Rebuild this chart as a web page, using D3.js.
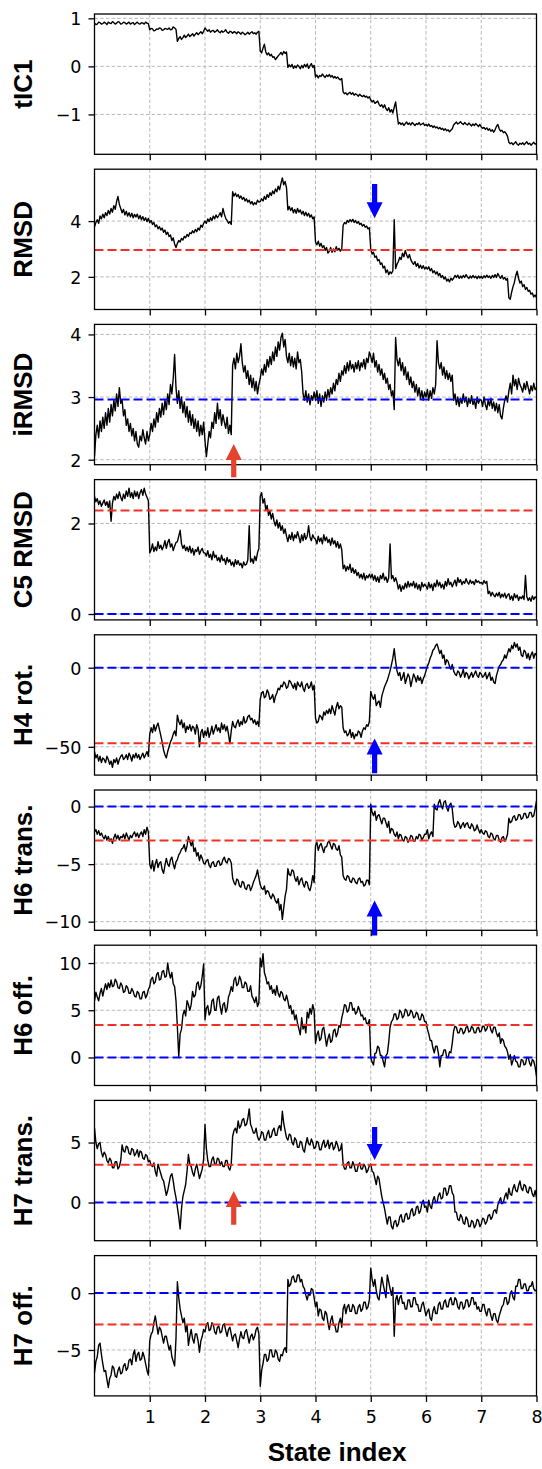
<!DOCTYPE html>
<html>
<head>
<meta charset="utf-8">
<script src="https://cdn.jsdelivr.net/npm/d3@7"></script>
<style>
  body { margin: 0; background: #fff; }
  svg { display: block; }
</style>
</head>
<body>
<svg id="chart" width="542" height="1469"></svg>
<script>
// ---- Data: one trace per panel, sampled every 0.025 state-index units (0 .. 8) ----
const stateIndex = d3.range(321).map(i => i * 0.025);

const tIC1 = [
  0.90,0.87,0.88,0.92,0.91,0.88,0.89,0.92,0.90,0.87, 0.92,0.90,0.89,0.93,0.91,0.88,0.90,0.93,0.92,0.88,
  0.89,0.92,0.91,0.88,0.90,0.92,0.88,0.90,0.91,0.87, 0.90,0.92,0.89,0.88,0.91,0.90,0.88,0.92,0.90,0.89,
  0.76,0.79,0.78,0.74,0.75,0.78,0.77,0.80,0.79,0.75, 0.76,0.79,0.78,0.77,0.80,0.76,0.77,0.82,0.80,0.77,
  0.52,0.58,0.62,0.56,0.60,0.65,0.60,0.63,0.67,0.62, 0.65,0.68,0.63,0.67,0.70,0.66,0.69,0.72,0.68,0.73,
  0.80,0.76,0.73,0.76,0.71,0.74,0.75,0.71,0.73,0.76, 0.72,0.70,0.74,0.71,0.73,0.76,0.71,0.69,0.73,0.72,
  0.69,0.72,0.71,0.68,0.72,0.70,0.67,0.71,0.69,0.66, 0.68,0.71,0.67,0.70,0.72,0.68,0.70,0.67,0.71,0.73,
  0.32,0.28,0.38,0.46,0.30,0.24,0.28,0.22,0.25,0.19, 0.20,0.14,0.18,0.22,0.25,0.29,0.24,0.31,0.27,0.30,
  -0.02,0.03,-0.01,0.04,-0.04,0.01,-0.03,0.03,0.00,-0.05, 0.02,-0.03,0.04,-0.01,0.05,-0.04,0.01,0.06,-0.02,0.02,
  -0.22,-0.18,-0.24,-0.19,-0.21,-0.16,-0.20,-0.23,-0.18,-0.21, -0.17,-0.22,-0.19,-0.24,-0.21,-0.25,-0.22,-0.26,-0.28,-0.25,
  -0.53,-0.57,-0.55,-0.59,-0.56,-0.54,-0.58,-0.55,-0.60,-0.57, -0.59,-0.62,-0.58,-0.61,-0.63,-0.60,-0.64,-0.62,-0.66,-0.63,
  -0.70,-0.74,-0.71,-0.77,-0.75,-0.72,-0.79,-0.83,-0.80,-0.86, -0.80,-0.88,-0.92,-0.86,-0.95,-0.90,-0.97,-0.85,-0.74,-0.98,
  -1.20,-1.17,-1.21,-1.18,-1.23,-1.19,-1.16,-1.21,-1.18,-1.22, -1.17,-1.20,-1.23,-1.19,-1.21,-1.17,-1.22,-1.20,-1.18,-1.23,
  -1.21,-1.24,-1.20,-1.25,-1.23,-1.27,-1.24,-1.28,-1.26,-1.30, -1.27,-1.31,-1.29,-1.33,-1.30,-1.34,-1.32,-1.36,-1.33,-1.30,
  -1.22,-1.19,-1.16,-1.20,-1.18,-1.15,-1.19,-1.21,-1.17,-1.20, -1.22,-1.18,-1.21,-1.24,-1.20,-1.23,-1.19,-1.22,-1.25,-1.21,
  -1.26,-1.29,-1.27,-1.31,-1.28,-1.33,-1.30,-1.35,-1.32,-1.37, -1.32,-1.25,-1.21,-1.30,-1.35,-1.33,-1.38,-1.36,-1.40,-1.45,
  -1.58,-1.61,-1.59,-1.63,-1.60,-1.57,-1.62,-1.64,-1.60,-1.62, -1.59,-1.63,-1.60,-1.57,-1.62,-1.60,-1.64,-1.61,-1.58,-1.62,
  -1.60
];

const rmsd = [
  3.80,3.95,4.05,3.92,4.18,4.08,4.25,4.12,4.30,4.20, 4.38,4.25,4.45,4.32,4.55,4.42,4.70,4.88,4.60,4.45,
  4.30,4.42,4.22,4.35,4.18,4.30,4.15,4.28,4.12,4.24, 4.15,4.25,4.08,4.20,4.05,4.16,4.02,4.12,3.98,4.10,
  3.95,4.02,3.88,3.95,3.80,3.86,3.72,3.80,3.68,3.75, 3.60,3.68,3.52,3.60,3.45,3.50,3.30,3.40,3.18,3.05,
  3.20,3.30,3.25,3.38,3.32,3.45,3.40,3.52,3.45,3.58, 3.55,3.65,3.58,3.70,3.62,3.75,3.68,3.85,3.78,3.92,
  4.00,3.92,4.08,3.98,4.12,4.02,4.18,4.08,4.22,4.12, 4.20,4.30,4.15,4.45,4.25,4.10,4.02,3.92,3.98,3.88,
  5.05,4.90,5.00,4.88,4.95,4.82,4.90,4.78,4.85,4.72, 4.80,4.68,4.75,4.62,4.70,4.58,4.66,4.60,4.75,4.68,
  4.70,4.80,4.72,4.88,4.78,4.95,4.85,5.02,4.92,5.08, 4.98,5.15,5.05,5.25,5.12,5.35,5.55,5.30,5.42,5.20,
  4.40,4.52,4.38,4.48,4.30,4.42,4.28,4.45,4.32,4.40, 4.25,4.35,4.20,4.32,4.18,4.28,4.14,4.22,4.08,4.15,
  3.25,3.15,3.28,3.10,3.20,3.05,3.12,2.95,3.05,2.85, 2.92,3.05,2.88,3.00,2.90,3.08,2.95,3.02,2.92,3.00,
  3.85,3.95,3.90,4.02,3.96,4.05,3.98,4.06,3.95,4.02, 3.92,3.98,3.88,3.92,3.82,3.88,3.78,3.82,3.72,3.76,
  3.00,2.82,2.88,2.70,2.75,2.58,2.62,2.45,2.50,2.32, 2.38,2.15,2.25,2.08,2.18,2.12,2.22,4.05,2.30,2.45,
  2.55,2.70,2.62,2.85,2.72,2.95,2.78,2.68,2.80,2.62, 2.52,2.45,2.55,2.38,2.48,2.32,2.42,2.30,2.40,2.28,
  2.35,2.28,2.36,2.22,2.30,2.15,2.22,2.10,2.18,2.05, 2.12,1.98,2.05,1.92,2.00,1.85,1.92,1.82,1.95,1.88,
  1.95,2.05,1.98,2.06,1.95,2.03,1.96,2.05,1.98,2.08, 2.00,1.94,2.03,1.96,2.05,1.97,2.02,1.94,2.03,1.96,
  2.02,1.95,2.04,1.97,2.06,1.98,2.03,1.95,2.05,1.98, 2.08,1.98,2.12,2.02,1.95,2.05,1.92,1.98,1.88,1.94,
  1.25,1.20,1.45,1.65,1.80,2.05,2.20,1.95,1.78,1.85, 1.65,1.72,1.55,1.62,1.48,1.52,1.38,1.42,1.28,1.35,
  1.25
];

const iRMSD = [
  2.05,2.40,2.55,2.35,2.62,2.45,2.68,2.50,2.75,2.55, 2.82,2.60,2.88,2.70,2.95,2.78,3.05,2.85,3.15,2.90,
  2.95,2.70,2.80,2.55,2.65,2.45,2.58,2.38,2.50,2.30, 2.45,2.25,2.20,2.38,2.30,2.48,2.35,2.25,2.45,2.30,
  2.40,2.58,2.45,2.65,2.52,2.75,2.60,2.82,2.68,2.90, 2.72,2.95,2.80,3.05,2.88,3.20,3.05,3.30,3.68,3.15,
  2.90,3.10,2.82,3.00,2.75,2.92,2.68,2.85,2.60,2.78, 2.55,2.72,2.50,2.65,2.45,2.62,2.38,2.55,2.40,2.60,
  2.30,2.05,2.25,2.45,2.35,2.60,2.50,2.75,2.58,2.90, 2.65,2.80,2.55,2.72,2.60,2.50,2.68,2.42,2.55,2.40,
  3.50,3.62,3.45,3.70,3.55,3.65,3.85,3.55,3.40,3.50, 3.30,3.42,3.20,3.35,3.15,3.30,3.10,3.25,3.05,3.20,
  3.30,3.45,3.35,3.52,3.40,3.60,3.48,3.65,3.52,3.72, 3.58,3.80,3.65,3.88,3.75,3.95,4.02,3.80,3.92,3.65,
  3.55,3.70,3.50,3.65,3.48,3.62,3.45,3.72,3.55,3.60, 3.40,3.05,2.95,3.10,2.92,3.05,2.88,3.02,2.95,3.08,
  2.95,3.10,2.90,3.05,2.85,3.02,2.92,3.08,2.95,3.12, 3.00,3.15,3.05,3.22,3.10,3.28,3.20,3.38,3.25,3.42,
  3.35,3.50,3.38,3.55,3.42,3.58,3.45,3.52,3.40,3.55, 3.45,3.58,3.42,3.55,3.48,3.60,3.45,3.62,3.55,3.72,
  3.65,3.55,3.70,3.48,3.58,3.40,3.52,3.35,3.45,3.28, 3.38,3.22,3.30,3.12,3.20,3.02,3.10,2.80,3.95,3.60,
  3.50,3.62,3.42,3.55,3.35,3.48,3.28,3.40,3.20,3.32, 3.15,3.25,3.08,3.20,3.02,3.15,2.98,3.10,2.95,3.08,
  3.00,3.12,2.95,3.10,2.98,3.15,3.05,3.20,3.90,3.55, 3.45,3.55,3.35,3.48,3.30,3.42,3.28,3.38,3.25,3.35,
  2.95,3.05,2.88,3.00,2.85,2.98,2.90,3.05,2.92,3.00, 2.85,2.98,2.90,3.02,2.88,2.95,2.82,3.00,2.90,2.96,
  2.95,2.85,3.00,2.88,2.80,2.95,2.86,2.98,2.82,2.92, 2.78,2.90,2.75,2.88,2.70,2.65,2.82,2.95,3.02,2.92,
  3.10,3.22,3.05,3.35,3.18,3.28,3.12,3.30,3.20,3.15, 3.08,3.22,3.12,3.25,3.15,3.05,3.18,3.10,3.22,3.12,
  3.15
];

const c5RMSD = [
  2.60,2.48,2.55,2.42,2.50,2.38,2.45,2.52,2.40,2.48, 2.35,2.50,2.05,2.45,2.60,2.52,2.65,2.55,2.70,2.58,
  2.50,2.65,2.55,2.72,2.60,2.78,2.58,2.68,2.55,2.72, 2.60,2.70,2.55,2.68,2.75,2.62,2.78,2.65,2.58,2.50,
  1.35,1.42,1.55,1.38,1.48,1.40,1.60,1.45,1.52,1.42, 1.50,1.62,1.45,1.58,1.65,1.48,1.55,1.40,1.50,1.58,
  1.60,1.72,1.85,1.55,1.45,1.52,1.40,1.48,1.38,1.50, 1.35,1.45,1.30,1.42,1.38,1.48,1.32,1.40,1.45,1.35,
  1.35,1.28,1.40,1.25,1.32,1.20,1.38,1.25,1.30,1.18, 1.25,1.15,1.30,1.18,1.22,1.10,1.25,1.15,1.20,1.08,
  1.15,1.05,1.20,1.10,1.18,1.08,1.12,1.02,1.15,1.08, 1.10,1.20,1.95,1.15,1.22,1.12,1.28,1.18,1.35,1.45,
  2.60,2.68,2.45,2.55,2.30,2.40,2.18,2.28,2.10,2.22, 2.05,1.95,2.08,1.90,2.02,1.85,1.95,1.78,1.88,1.72,
  1.60,1.75,1.65,1.80,1.62,1.75,1.68,1.82,1.70,1.58, 1.75,1.62,1.78,1.65,1.72,1.95,1.70,1.62,1.75,1.68,
  1.65,1.55,1.72,1.60,1.68,1.55,1.75,1.62,1.70,1.58, 1.65,1.52,1.68,1.55,1.62,1.48,1.60,1.45,1.55,1.42,
  1.00,1.08,0.95,1.05,0.98,1.10,0.92,1.02,0.90,0.98, 0.85,0.92,0.80,0.88,0.78,0.90,0.75,0.85,0.80,0.88,
  0.80,0.88,0.75,0.85,0.72,0.82,0.70,0.85,0.78,0.90, 0.75,0.82,0.70,0.80,1.55,0.78,0.85,0.72,0.80,0.70,
  0.55,0.65,0.50,0.62,0.55,0.68,0.58,0.72,0.60,0.68, 0.62,0.72,0.58,0.68,0.55,0.65,0.52,0.70,0.60,0.66,
  0.62,0.55,0.70,0.58,0.66,0.52,0.68,0.60,0.75,0.62, 0.70,0.58,0.66,0.55,0.72,0.62,0.78,0.65,0.70,0.60,
  0.68,0.75,0.62,0.80,0.70,0.76,0.65,0.72,0.68,0.78, 0.70,0.66,0.75,0.68,0.72,0.65,0.76,0.70,0.73,0.68,
  0.70,0.66,0.74,0.68,0.72,0.45,0.50,0.40,0.48,0.42, 0.38,0.46,0.40,0.48,0.36,0.44,0.38,0.46,0.35,0.42,
  0.45,0.32,0.40,0.30,0.45,0.36,0.42,0.30,0.38,0.34, 0.40,0.32,0.85,0.38,0.30,0.36,0.28,0.40,0.32,0.38,
  0.35
];

const h4Rot = [
  -53,-57,-55,-59,-56,-60,-57,-58,-60,-56, -58,-61,-59,-63,-58,-60,-57,-61,-58,-56,
  -55,-58,-57,-55,-58,-54,-56,-59,-55,-57, -54,-57,-55,-58,-56,-54,-57,-55,-53,-56,
  -42,-38,-41,-36,-40,-37,-35,-39,-43,-47, -52,-55,-57,-53,-50,-47,-45,-42,-40,-43,
  -30,-34,-36,-33,-38,-35,-41,-37,-39,-36, -40,-37,-38,-42,-36,-39,-50,-41,-39,-44,
  -40,-43,-38,-44,-41,-37,-42,-39,-36,-40, -38,-41,-35,-39,-36,-40,-37,-42,-48,-40,
  -34,-37,-38,-35,-33,-37,-34,-36,-31,-35, -34,-31,-30,-33,-32,-35,-33,-36,-34,-37,
  -20,-16,-15,-19,-18,-14,-16,-20,-19,-17, -22,-18,-16,-13,-14,-11,-12,-9,-10,-13,
  -12,-8,-9,-11,-13,-10,-14,-9,-11,-12, -9,-13,-15,-11,-10,-13,-12,-9,-14,-11,
  -32,-35,-34,-30,-31,-33,-28,-30,-27,-29, -26,-29,-24,-27,-30,-25,-22,-26,-24,-25,
  -38,-41,-40,-43,-42,-39,-44,-41,-45,-42, -43,-40,-41,-44,-40,-38,-39,-36,-37,-34,
  -15,-18,-20,-17,-24,-22,-21,-25,-18,-15, -12,-10,-8,-5,-2,2,6,12,4,-2,
  -5,-3,-8,-6,-3,-10,-7,-4,-6,-12, -8,-4,-6,-9,-5,-8,-6,-10,-7,-5,
  -2,1,3,6,8,11,12,14,15,12, 9,11,6,8,2,5,4,1,-1,2,
  -2,-4,-5,-2,-3,-6,-4,-1,-6,-3, -4,-7,-5,-3,-6,-4,-2,-5,-6,-3,
  -4,-6,-5,-3,-7,-5,-3,-8,-6,-9, -10,-5,-2,1,2,4,5,8,6,9,
  12,10,14,12,16,13,15,11,13,8, 7,11,10,6,9,5,8,10,6,9,
  8
];

const h6Trans = [
  -2.2,-2.0,-2.4,-2.1,-2.5,-2.3,-2.6,-2.8,-2.5,-2.9, -2.6,-3.0,-2.8,-3.2,-2.7,-2.4,-2.8,-2.5,-2.9,-2.6,
  -2.7,-2.4,-2.8,-2.3,-2.6,-2.9,-2.5,-2.7,-2.4,-2.2, -2.6,-2.3,-2.7,-2.4,-2.2,-2.6,-2.0,-2.4,-1.8,-2.2,
  -5.0,-5.4,-4.7,-5.6,-5.0,-4.6,-5.3,-4.9,-4.8,-5.5, -5.8,-5.1,-4.5,-5.0,-5.2,-4.6,-4.4,-5.0,-5.4,-4.8,
  -4.6,-4.2,-4.0,-3.7,-3.6,-3.3,-3.9,-3.4,-2.6,-3.0, -3.4,-3.0,-3.9,-3.6,-4.3,-4.0,-4.7,-4.2,-4.5,-4.9,
  -5.0,-4.7,-4.6,-5.1,-5.3,-4.9,-4.8,-5.2,-5.2,-4.8, -4.7,-5.1,-5.0,-4.6,-4.4,-4.8,-4.9,-4.5,-4.6,-4.9,
  -6.2,-6.6,-6.8,-6.3,-6.4,-6.9,-7.0,-6.5,-6.6,-7.1, -7.2,-6.8,-6.8,-7.3,-7.0,-6.6,-6.3,-6.0,-5.5,-6.2,
  -6.8,-7.1,-7.2,-6.9,-7.6,-7.3,-7.4,-7.8,-8.0,-7.6, -7.8,-8.2,-8.4,-8.0,-9.0,-8.5,-9.8,-8.8,-7.8,-7.2,
  -5.4,-5.9,-6.0,-5.5,-5.6,-6.2,-6.5,-6.1,-6.8,-6.4, -6.2,-6.7,-7.0,-6.5,-6.6,-7.1,-7.3,-6.8,-6.0,-6.6,
  -3.4,-3.1,-3.8,-3.4,-3.2,-3.6,-4.0,-3.5,-3.5,-3.1, -3.0,-3.4,-3.7,-3.2,-3.3,-3.7,-3.8,-3.4,-4.2,-4.4,
  -6.0,-6.3,-6.4,-6.0,-6.1,-6.5,-6.6,-6.2,-6.3,-6.6, -6.7,-6.3,-6.2,-6.6,-6.5,-6.9,-6.8,-6.4,-6.4,-6.8,
  0.2,-0.5,-0.8,-0.4,-1.2,-0.8,-0.7,-1.1,-1.5,-1.0, -1.0,-1.4,-1.8,-1.3,-2.3,-1.9,-2.0,-2.4,-2.6,-2.2,
  -2.8,-2.4,-2.5,-2.9,-3.0,-2.6,-2.7,-3.1,-2.9,-2.5, -2.6,-3.0,-3.0,-2.6,-2.8,-2.4,-2.5,-2.9,-2.7,-2.4,
  -2.4,-2.0,-2.8,-2.4,-2.2,-2.6,0.2,-0.2,-0.3,0.3, 0.6,0.1,-0.2,0.4,0.5,-0.1,-0.4,0.1,0.3,-0.2,
  -1.4,-1.8,-1.7,-1.3,-1.5,-1.9,-1.6,-1.4,-1.8,-1.5, -1.4,-1.8,-1.9,-1.5,-1.7,-2.1,-2.0,-1.6,-2.0,-2.3,
  -2.0,-2.3,-2.4,-2.1,-2.2,-2.6,-2.7,-2.3,-2.4,-2.8, -2.9,-2.5,-2.5,-2.9,-3.1,-2.7,-2.6,-3.0,-2.8,-2.4,
  -1.0,-1.4,-1.3,-0.9,-0.8,-1.2,-1.1,-0.7,-0.7,-1.1, -1.0,-0.6,-0.6,-1.0,-0.9,-0.5,-0.5,-0.9,-0.8,-0.2,
  0.5
];

const h6Off = [
  6.0,6.9,6.4,6.0,6.8,7.3,6.5,7.2,7.8,7.2, 7.9,7.4,8.2,7.5,7.6,8.3,8.0,7.4,7.3,7.9,
  7.6,6.9,7.0,7.6,7.4,6.8,6.8,7.3,7.0,6.5, 6.4,7.0,6.8,6.2,6.2,6.9,7.0,6.3,6.6,7.2,
  7.5,8.3,8.5,7.8,8.0,8.8,9.0,8.2,8.3,9.1, 9.2,8.5,8.6,10.0,9.0,8.4,9.0,7.8,7.5,6.0,
  3.2,0.1,2.5,3.0,4.5,5.0,4.4,6.0,5.6,5.0, 5.6,7.0,6.4,6.6,7.8,8.0,7.2,7.6,8.6,9.9,
  4.0,5.2,5.5,4.5,4.8,6.0,6.2,5.0,5.0,6.3, 6.5,5.4,4.6,5.6,5.8,4.8,5.2,6.4,6.8,7.5,
  7.0,8.2,8.5,7.6,7.8,8.6,8.2,7.4,7.4,8.0, 7.8,7.0,7.0,7.6,6.5,6.2,5.8,6.4,5.4,5.8,
  10.5,9.6,11.0,9.0,8.5,7.8,8.0,7.2,7.6,6.8, 7.2,6.6,7.6,6.8,6.4,7.0,6.8,6.2,6.0,6.6,
  6.0,5.2,5.5,4.6,5.0,4.0,4.5,3.6,3.0,2.4, 4.2,3.0,3.5,2.6,4.8,4.2,5.2,4.6,5.6,5.0,
  1.5,2.4,2.8,1.8,2.0,3.0,3.2,2.2,1.2,2.0, 2.5,1.6,1.8,2.8,3.0,2.2,2.6,3.4,3.2,4.2,
  4.8,5.6,5.5,4.8,5.0,5.8,5.8,5.0,5.2,4.6, 4.8,5.4,5.0,4.4,4.5,4.0,4.2,3.6,3.6,4.0,
  0.0,-0.5,-0.8,0.4,0.5,1.2,1.0,0.2,0.2,-0.4, -1.0,0.2,0.4,1.6,3.2,3.8,4.0,4.6,4.6,4.0,
  4.2,5.0,4.8,4.2,4.4,5.1,5.0,4.4,4.5,5.0, 4.8,4.2,4.3,4.8,4.6,4.0,4.0,4.6,4.4,3.8,
  3.8,3.0,2.5,1.8,1.8,1.0,0.5,1.2,1.2,0.4, -1.0,0.2,0.2,0.8,0.8,0.0,0.0,0.6,0.5,1.5,
  2.8,3.3,3.2,2.6,2.6,3.1,3.0,2.5,2.7,3.2, 3.3,2.7,2.8,3.3,3.1,2.6,2.6,3.1,3.2,2.7,
  2.8,3.3,3.3,2.8,3.0,3.5,3.5,2.9,2.6,3.2, 3.2,2.6,2.2,2.6,1.5,2.0,1.8,1.2,1.0,0.6,
  -0.2,0.3,-0.8,-0.3,0.2,-0.4,-0.5,-1.0,-1.0,-0.2, -0.3,-0.8,-0.7,0.0,0.0,-0.6,-0.9,-0.2,-0.4,-1.0,
  -2.0
];

const h7Trans = [
  6.2,5.0,4.5,4.9,5.0,4.2,3.8,4.2,4.0,3.5, 3.3,3.7,3.5,2.9,2.9,3.4,3.4,2.8,3.0,3.5,
  4.8,4.3,4.2,4.7,4.6,4.1,4.0,4.5,4.4,3.9, 4.1,4.4,3.8,4.3,4.2,3.7,3.6,4.0,3.9,3.4,
  3.5,3.1,3.0,3.3,2.6,2.2,3.2,2.8,2.4,2.0, 1.8,1.2,0.6,1.0,1.6,2.2,2.4,1.8,1.0,0.4,
  -0.4,-1.2,-2.2,-0.5,0.5,1.0,1.5,2.6,4.0,3.2, 3.0,2.5,2.2,2.8,3.2,2.6,2.0,2.4,2.8,3.6,
  6.5,4.5,3.5,3.0,3.0,3.6,3.8,3.2,3.2,3.7, 3.6,3.1,3.4,3.0,3.0,3.5,3.5,2.9,2.7,3.2,
  5.5,6.0,6.2,5.8,6.8,6.2,6.4,6.9,7.0,6.4, 6.5,7.0,7.8,6.5,6.2,5.8,5.8,6.2,5.5,5.2,
  5.4,5.9,5.8,5.2,5.2,5.7,6.0,5.4,5.5,6.0, 6.2,5.6,5.6,6.2,6.4,6.0,7.6,6.6,6.0,5.4,
  5.2,5.7,5.6,5.0,4.8,5.4,5.2,4.6,4.6,5.1, 5.0,4.4,4.2,4.9,5.4,4.9,4.8,5.3,5.0,4.5,
  4.6,5.1,5.0,4.4,4.4,4.9,5.2,4.6,4.8,5.2, 4.5,4.9,5.0,4.4,4.6,5.1,4.8,4.3,4.4,4.9,
  3.2,2.8,2.8,3.3,3.4,2.9,2.9,3.4,3.1,2.6, 2.6,3.1,3.3,2.8,2.8,3.2,3.0,2.5,2.7,3.1,
  3.2,2.6,2.5,2.0,1.5,2.2,2.0,1.2,0.5,0.0, -0.5,-1.2,-1.8,-1.2,-1.2,-2.0,-2.2,-1.6,-1.5,-2.0,
  -1.8,-1.2,-1.0,-1.6,-1.6,-1.0,-0.9,-1.4,-1.3,-0.7, -0.5,-1.1,-1.0,-0.4,-0.3,-0.9,-0.7,-0.1,0.2,-0.4,
  -0.3,-0.8,0.2,-0.3,-0.5,0.2,0.5,0.0,0.0,0.6, 0.8,0.3,0.4,1.2,1.2,0.6,0.8,1.4,1.4,0.8,
  0.6,-0.8,-0.8,-1.4,-1.5,-1.0,-1.2,-1.7,-1.8,-1.2, -1.4,-2.0,-2.0,-1.5,-1.6,-2.1,-1.9,-1.4,-1.5,-2.0,
  -1.8,-1.3,-1.4,-1.8,-1.6,-1.1,-1.0,-1.4,-1.2,-0.7, -0.6,-0.9,-0.2,0.1,0.4,-0.1,0.0,0.5,0.8,0.3,
  1.2,0.7,0.6,1.2,1.5,1.0,0.9,1.4,1.8,1.2, 1.0,1.5,1.4,0.9,0.8,1.3,1.2,0.7,0.5,1.0,
  0.4
];

const h7Off = [
  -7.0,-6.0,-5.6,-4.6,-4.4,-5.4,-6.2,-6.9,-6.8,-7.6, -8.3,-7.5,-7.2,-6.4,-6.6,-7.3,-7.4,-6.8,-6.5,-7.1,
  -7.0,-6.4,-6.2,-6.8,-6.6,-5.9,-5.8,-6.3,-5.4,-5.0, -6.0,-5.4,-5.2,-5.9,-5.8,-5.2,-5.6,-6.2,-6.8,-7.2,
  -4.2,-3.6,-3.4,-2.6,-2.0,-2.8,-3.6,-3.0,-3.2,-3.8, -4.4,-3.8,-3.8,-4.4,-5.0,-4.6,-5.6,-6.0,-6.4,-4.0,
  1.0,-0.4,-1.4,-2.0,-2.6,-2.2,-3.4,-2.8,-4.6,-3.8, -3.2,-4.0,-4.4,-3.6,-3.6,-4.2,-5.2,-4.2,-3.8,-3.2,
  -3.4,-2.8,-2.6,-3.3,-3.2,-2.6,-2.8,-3.4,-3.6,-3.0, -2.9,-3.5,-3.4,-2.8,-2.7,-3.3,-3.8,-3.2,-3.0,-3.6,
  -4.2,-3.7,-3.6,-4.2,-4.8,-4.0,-3.4,-3.9,-4.0,-3.4, -3.2,-3.8,-4.4,-3.8,-3.6,-4.1,-3.8,-3.2,-3.0,-3.6,
  -8.2,-6.8,-6.2,-5.4,-5.4,-6.0,-5.8,-5.0,-5.0,-5.6, -5.6,-5.0,-5.2,-5.8,-6.0,-5.4,-5.5,-5.0,-4.8,-5.2,
  1.2,0.6,0.8,1.4,1.5,1.0,1.0,1.6,1.6,1.0, 1.2,0.6,0.4,-0.2,-0.6,0.0,-0.2,0.4,0.3,-0.4,
  -1.2,-0.8,-2.0,-1.4,-1.5,-2.2,-2.4,-1.6,-1.8,-2.6, -3.2,-2.4,-2.0,-2.8,-2.8,-3.4,-3.4,-2.6,-2.2,-3.0,
  -1.4,-1.0,-1.8,-1.2,-1.0,-1.6,-1.6,-1.0,-1.2,-1.8, -1.8,-1.2,-1.0,-1.6,-1.4,-0.8,-0.8,-1.4,-1.2,-0.6,
  2.2,1.2,0.6,1.2,0.2,-0.4,-0.6,0.4,1.4,0.8, 0.2,-0.4,1.6,1.0,0.4,-0.2,0.5,-3.8,-0.6,-0.2,
  -1.0,-0.4,-0.2,-0.9,-0.8,-1.4,-1.4,-0.6,-0.6,-1.2, -1.2,-0.4,-0.4,-1.0,-1.0,-1.6,-1.6,-1.0,-0.8,-1.4,
  -2.0,-1.6,-1.4,-2.2,-2.4,-1.6,-1.2,-1.8,-1.8,-1.0, -0.8,-1.4,-1.4,-0.8,-0.6,-1.2,-1.2,-0.6,-0.4,-1.0,
  -1.0,-0.4,-0.6,-1.2,-1.4,-0.8,-0.8,-1.4,-1.2,-0.6, -0.6,-1.2,-1.0,-0.4,-0.4,-1.0,-0.8,-1.4,-1.2,-1.6,
  -1.6,-1.0,-1.0,-1.6,-2.0,-1.4,-1.4,-2.0,-2.4,-1.8, -1.8,-2.4,-2.6,-2.0,-1.6,-1.2,-1.0,-0.4,-0.4,-1.0,
  -0.8,0.0,0.2,-0.4,-0.6,0.6,0.6,1.2,1.2,0.4, 0.4,0.8,0.8,0.2,0.2,0.6,0.6,1.0,0.4,0.2,
  0.3
];

const series = [tIC1, rmsd, iRMSD, c5RMSD, h4Rot, h6Trans, h6Off, h7Trans, h7Off];
const panelLabels = ["tIC1", "RMSD", "iRMSD", "C5 RMSD", "H4 rot.", "H6 trans.", "H6 off.", "H7 trans.", "H7 off."];
const xTicks = [1, 2, 3, 4, 5, 6, 7, 8];
const yTicks = [[-1, 0, 1], [2, 4], [2, 3, 4], [0, 2], [-50, 0], [-10, -5, 0], [0, 5, 10], [0, 5], [-5, 0]];
const yLimits = [[-1.83, 1.09], [0.83, 5.86], [1.92, 4.16], [-0.13, 2.97], [-67.9, 20.8],
                 [-10.75, 1.44], [-2.97, 11.89], [-3.18, 8.51], [-9.04, 3.30]];
// dashed reference levels (null = not drawn in that panel)
const redLevels  = [null, 2.96, null, 2.29, -47.7, -2.94, 3.43, 3.15, -2.75];
const blueLevels = [null, null, 2.96, 0, 0, 0, 0, 0, 0];

// event arrows: panel, state index, tail value, tip value, colour
const arrowPanel = [1, 2, 4, 5, 7, 7];
const arrowState = [5.07, 2.52, 5.07, 5.07, 5.07, 2.52];
const arrowTail  = [5.33, 1.72, -66.8, -11.2, 6.3, -1.85];
const arrowTip   = [4.10, 2.25, -44.7, -8.16, 3.54, 0.97];
const arrowColor = ["#0000ff", "#e5432d", "#0000ff", "#0000ff", "#0000ff", "#e5432d"];

// ---- Layout ----
const plotLeft = 94.5, plotRight = 536.5;
const firstTop = 14, panelHeight = 140.3, panelPitch = 155.2;
const tickFont = "'DejaVu Sans', sans-serif";
const labelFont = "'Liberation Sans', Arial, Helvetica, sans-serif";
const RED = "#ee3124", BLUE = "#0000ff";

const svg = d3.select("#chart");
const defs = svg.append("defs");
const x = d3.scaleLinear().domain([0, 8]).range([plotLeft, plotRight]);
const yScales = [];

series.forEach((vals, i) => {
  const top = firstTop + i * panelPitch;
  const bottom = top + panelHeight;
  const y = d3.scaleLinear().domain(yLimits[i]).range([bottom, top]);
  yScales.push(y);

  const g = svg.append("g").attr("class", "panel");
  defs.append("clipPath").attr("id", "clip" + i)
    .append("rect").attr("x", plotLeft).attr("y", top)
    .attr("width", plotRight - plotLeft).attr("height", panelHeight);
  const plot = g.append("g").attr("clip-path", `url(#clip${i})`);

  // grid
  plot.selectAll("line.vgrid").data(xTicks.filter(t => t < 8)).join("line")
    .attr("class", "vgrid")
    .attr("x1", d => x(d)).attr("x2", d => x(d))
    .attr("y1", top).attr("y2", bottom)
    .attr("stroke", "#b0b0b0").attr("stroke-width", 0.9).attr("stroke-dasharray", "3.5,2.2");
  plot.selectAll("line.hgrid").data(yTicks[i]).join("line")
    .attr("class", "hgrid")
    .attr("x1", plotLeft).attr("x2", plotRight)
    .attr("y1", d => y(d)).attr("y2", d => y(d))
    .attr("stroke", "#b0b0b0").attr("stroke-width", 0.9).attr("stroke-dasharray", "3.5,2.2");

  // trace
  const line = d3.line().x((d, j) => x(stateIndex[j])).y(d => y(d));
  plot.append("path").datum(vals)
    .attr("d", line)
    .attr("fill", "none").attr("stroke", "#000")
    .attr("stroke-width", 1.4).attr("stroke-linejoin", "round");

  // reference levels
  [[redLevels[i], RED], [blueLevels[i], BLUE]].forEach(([lvl, col]) => {
    if (lvl === null) return;
    plot.append("line")
      .attr("x1", plotLeft).attr("x2", plotRight)
      .attr("y1", y(lvl)).attr("y2", y(lvl))
      .attr("stroke", col).attr("stroke-width", 2).attr("stroke-dasharray", "9,4");
  });

  // y axis
  const ya = g.append("g").attr("transform", `translate(${plotLeft},0)`)
    .call(d3.axisLeft(y).tickValues(yTicks[i]).tickSize(6).tickPadding(7).tickFormat(d3.format("d")));
  ya.select(".domain").remove();
  ya.selectAll(".tick line").attr("stroke", "#000").attr("stroke-width", 1.3);
  ya.selectAll(".tick text").attr("font-family", tickFont).attr("font-size", 17.5)
    .attr("fill", "#000").attr("dy", "0.36em");

  // x axis (labels only on the last panel)
  const last = i === series.length - 1;
  const xa = g.append("g").attr("transform", `translate(0,${bottom})`)
    .call(d3.axisBottom(x).tickValues(xTicks).tickSize(6).tickPadding(9)
      .tickFormat(last ? d3.format("d") : () => ""));
  xa.select(".domain").remove();
  xa.selectAll(".tick line").attr("stroke", "#000").attr("stroke-width", 1.3);
  xa.selectAll(".tick text").attr("font-family", tickFont).attr("font-size", 17.5).attr("fill", "#000");

  // frame
  g.append("rect").attr("x", plotLeft).attr("y", top)
    .attr("width", plotRight - plotLeft).attr("height", panelHeight)
    .attr("fill", "none").attr("stroke", "#000").attr("stroke-width", 1.3);

  // panel label
  g.append("text")
    .attr("transform", `translate(32,${(top + bottom) / 2}) rotate(-90)`)
    .attr("text-anchor", "middle")
    .attr("font-family", labelFont).attr("font-weight", "bold").attr("font-size", 26)
    .attr("fill", "#000")
    .text(panelLabels[i]);
});

// x axis title
svg.append("text")
  .attr("x", 337).attr("y", 1461)
  .attr("text-anchor", "middle")
  .attr("font-family", labelFont).attr("font-weight", "bold").attr("font-size", 26)
  .attr("fill", "#000")
  .text("State index");

// event arrows (drawn unclipped on top)
const shaftHalf = 2.6, headHalf = 8, headLen = 16;
arrowPanel.forEach((p, k) => {
  const y = yScales[p];
  const ax = x(arrowState[k]);
  const y0 = y(arrowTail[k]), y1 = y(arrowTip[k]);
  const dir = y1 > y0 ? 1 : -1;
  const yb = y1 - dir * headLen;
  const pts = [
    [ax - shaftHalf, y0], [ax + shaftHalf, y0], [ax + shaftHalf, yb], [ax + headHalf, yb],
    [ax, y1], [ax - headHalf, yb], [ax - shaftHalf, yb]
  ];
  svg.append("polygon")
    .attr("points", pts.map(d => d.join(",")).join(" "))
    .attr("fill", arrowColor[k]);
});
</script>
</body>
</html>
